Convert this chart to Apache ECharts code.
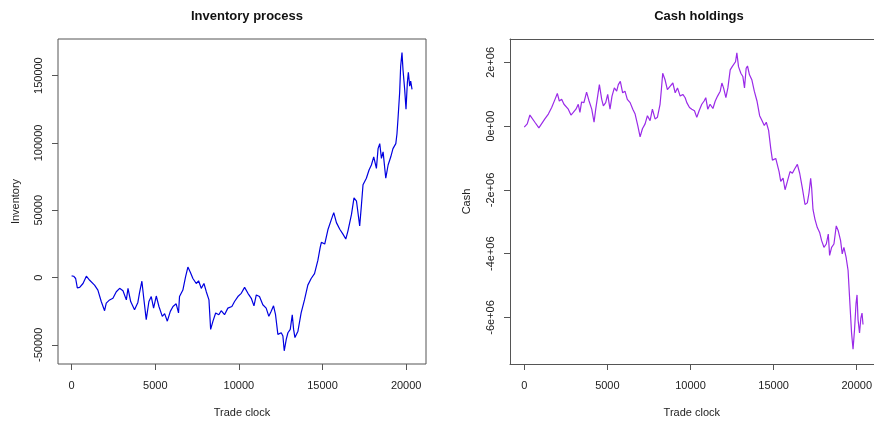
<!DOCTYPE html>
<html>
<head>
<meta charset="utf-8">
<script src="https://cdn.jsdelivr.net/npm/echarts@6/dist/echarts.min.js"></script>
<style>
  html, body { margin: 0; padding: 0; background: #fff; overflow: hidden; }
  #chart { width: 875px; height: 423px; }
</style>
</head>
<body>
<div id="chart"></div>
<script>
// Inventory path: trade clock vs. inventory level
const inventoryClock = [0,120,240,340,480,680,880,1080,1370,1570,1770,1970,2070,2270,2470,2670,2870,3070,3270,3370,3530,3760,3960,4060,4200,4300,4460,4620,4760,4900,5060,5220,5420,5560,5720,5900,6060,6250,6390,6450,6650,6810,6950,7090,7250,7450,7590,7750,7910,8050,8210,8310,8450,8610,8800,8940,9140,9340,9580,9740,9940,10140,10340,10540,10740,10900,11040,11230,11430,11630,11790,11930,12070,12190,12330,12530,12630,12710,12830,12930,13070,13190,13270,13350,13530,13720,13920,14120,14320,14520,14720,14860,14930,15130,15330,15530,15670,15830,16030,16220,16390,16520,16730,16880,17030,17220,17320,17420,17620,17780,17920,18060,18220,18320,18420,18520,18620,18780,18920,19080,19210,19380,19450,19510,19610,19670,19750,19810,19910,19990,20070,20130,20210,20270,20350];
const inventoryLevel = [1200,1000,-700,-7600,-7300,-4400,1000,-2000,-5600,-9300,-17800,-24600,-19000,-16600,-15400,-10500,-8000,-9800,-16600,-8000,-17800,-23900,-18500,-11200,-2700,-14100,-31200,-17800,-14100,-22700,-13700,-21500,-28800,-26800,-32400,-25100,-21500,-19500,-26300,-14100,-9300,500,7800,4200,-700,-4400,-2400,-8000,-4400,-10500,-16600,-38500,-32400,-26300,-27600,-24600,-27600,-22700,-21500,-17800,-14100,-11700,-7300,-11700,-15400,-21000,-12900,-14100,-20200,-22700,-28800,-25100,-21000,-27600,-42200,-41000,-43400,-54400,-45900,-41000,-38500,-27600,-38500,-44600,-39800,-26300,-16600,-5600,-700,2900,12700,22400,26200,24900,35900,43200,48200,40800,35900,32300,28600,34700,46900,59200,56700,38400,53100,68900,73800,79900,83600,89700,81100,95800,99500,88500,93400,73800,83600,89700,95800,99500,106800,117800,137400,156900,167100,154400,139800,125100,144700,152500,142200,145900,139800];

// Cash path: trade clock vs. cash holdings
const cashClock = [0,100,180,340,440,640,880,1040,1240,1450,1650,1850,1990,2110,2250,2390,2510,2650,2810,2950,3110,3250,3350,3450,3590,3750,3900,4060,4200,4300,4400,4520,4660,4760,4900,5020,5160,5280,5420,5560,5660,5780,5920,6060,6200,6370,6530,6670,6830,6970,7110,7270,7410,7570,7710,7870,8010,8170,8250,8330,8470,8610,8770,8940,9080,9220,9380,9540,9680,9780,9940,10080,10240,10380,10520,10680,10820,10920,11040,11180,11350,11490,11630,11790,11890,11990,12130,12250,12390,12510,12630,12710,12790,12890,13030,13150,13250,13350,13430,13550,13690,13840,14000,14160,14300,14440,14560,14700,14830,14930,15130,15330,15430,15570,15690,15830,15990,16130,16290,16430,16570,16730,16890,17030,17130,17230,17290,17370,17490,17630,17770,17890,18030,18170,18290,18370,18490,18630,18770,18890,19030,19130,19230,19360,19480,19590,19690,19780,19870,19960,20020,20080,20170,20250,20320,20380];
const cashLevel = [-31000,-62000,72000,349000,308000,123000,-51000,72000,226000,380000,585000,841000,1026000,790000,841000,687000,636000,533000,349000,431000,533000,687000,431000,759000,738000,1067000,790000,533000,123000,533000,482000,1302000,841000,636000,738000,995000,533000,943000,1200000,1097000,1302000,1405000,1046000,1097000,841000,738000,533000,380000,20000,-338000,-82000,72000,328000,174000,533000,226000,277000,687000,1149000,1661000,1456000,1149000,1251000,1354000,1046000,1200000,943000,995000,892000,738000,585000,533000,482000,277000,482000,687000,790000,892000,533000,687000,554000,790000,943000,1097000,1354000,1200000,892000,1200000,1764000,1867000,1815000,2020000,2297000,1867000,1661000,1559000,1200000,1815000,1887000,1610000,1456000,1097000,790000,328000,174000,20000,123000,-133000,-703000,-1065000,-1012000,-1424000,-1734000,-1632000,-1994000,-1734000,-1424000,-1477000,-1322000,-1198000,-1477000,-1941000,-2458000,-2406000,-2096000,-1632000,-1941000,-2613000,-2923000,-3180000,-3334000,-3591000,-3799000,-3696000,-3387000,-4056000,-3799000,-3696000,-3127000,-3282000,-3591000,-4004000,-3799000,-4108000,-4520000,-5554000,-6483000,-6997000,-6378000,-5554000,-5294000,-6068000,-6483000,-6019000,-5864000,-6223000];

// Axis ticks
const clockTicks = [0, 5000, 10000, 15000, 20000];
const inventoryTicks = [-50000, 0, 50000, 100000, 150000];
const cashTicks = [-6e6, -4e6, -2e6, 0, 2e6];
const cashTickLabels = ['-6e+06', '-4e+06', '-2e+06', '0e+00', '2e+06'];

const FONT = 'Liberation Sans, Arial, sans-serif';
const BOX = '#555';
const TEXT = '#222';

function zip(xs, ys) { return xs.map((x, i) => [x, ys[i]]); }

function xAxisFor(gridIndex, min, max, showLine) {
  return {
    type: 'value', gridIndex, min, max,
    name: 'Trade clock', nameLocation: 'middle', nameGap: 43,
    nameTextStyle: { fontFamily: FONT, fontSize: 11, color: TEXT },
    axisLine: { show: showLine, onZero: false, lineStyle: { color: BOX, width: 1 } },
    axisTick: { show: true, inside: false, length: 6, customValues: clockTicks, lineStyle: { color: BOX } },
    axisLabel: { customValues: clockTicks, margin: 16, fontFamily: FONT, fontSize: 11, color: TEXT,
                 formatter: v => String(v) },
    splitLine: { show: false }
  };
}

const option = {
  backgroundColor: '#fff',
  animation: false,
  title: [
    { text: 'Inventory process', left: 242, top: 5, textAlign: 'center',
      textStyle: { fontFamily: FONT, fontSize: 13, fontWeight: 'bold', color: '#111' } },
    { text: 'Cash holdings', left: 694, top: 5, textAlign: 'center',
      textStyle: { fontFamily: FONT, fontSize: 13, fontWeight: 'bold', color: '#111' } }
  ],
  grid: [
    { left: 58, top: 39, width: 368, height: 329, show: true, borderColor: BOX, borderWidth: 1, backgroundColor: 'transparent' },
    // right-hand panel: its frame continues past the page edge, so only top, left and bottom are drawn
    { left: 510, top: 39, width: 365, height: 329, show: false }
  ],
  xAxis: [
    xAxisFor(0, -815, 21185, false),
    xAxisFor(1, -857, 21018, true),
    {
      type: 'value', gridIndex: 1, position: 'top', min: -857, max: 21018,
      axisLine: { show: true, onZero: false, lineStyle: { color: BOX, width: 1 } },
      axisTick: { show: false }, axisLabel: { show: false }, splitLine: { show: false }
    }
  ],
  yAxis: [
    {
      type: 'value', gridIndex: 0,
      min: -64200, max: 177200,
      name: 'Inventory', nameLocation: 'middle', nameGap: 37,
      nameTextStyle: { fontFamily: FONT, fontSize: 11, color: TEXT },
      axisLine: { show: false, onZero: false },
      axisTick: { show: true, length: 6, customValues: inventoryTicks, lineStyle: { color: BOX } },
      axisLabel: { customValues: inventoryTicks, rotate: 90, margin: 14, fontFamily: FONT, fontSize: 11, color: TEXT,
                   formatter: v => String(v) },
      splitLine: { show: false }
    },
    {
      type: 'value', gridIndex: 1,
      min: -7460000, max: 2734000,
      name: 'Cash', nameLocation: 'middle', nameGap: 38,
      nameTextStyle: { fontFamily: FONT, fontSize: 11, color: TEXT },
      axisLine: { show: true, onZero: false, lineStyle: { color: BOX, width: 1 } },
      axisTick: { show: true, length: 6, customValues: cashTicks, lineStyle: { color: BOX } },
      axisLabel: {
        customValues: cashTicks, rotate: 90, margin: 14, fontFamily: FONT, fontSize: 11, color: TEXT,
        formatter: v => cashTickLabels[cashTicks.indexOf(v)]
      },
      splitLine: { show: false }
    }
  ],
  series: [
    {
      type: 'line', xAxisIndex: 0, yAxisIndex: 0,
      data: zip(inventoryClock, inventoryLevel),
      showSymbol: false, lineStyle: { color: '#0000e0', width: 1.2 }
    },
    {
      type: 'line', xAxisIndex: 1, yAxisIndex: 1,
      data: zip(cashClock, cashLevel),
      showSymbol: false, lineStyle: { color: '#9a2ae8', width: 1.2 }
    }
  ]
};

echarts.init(document.getElementById('chart')).setOption(option);
</script>
</body>
</html>
